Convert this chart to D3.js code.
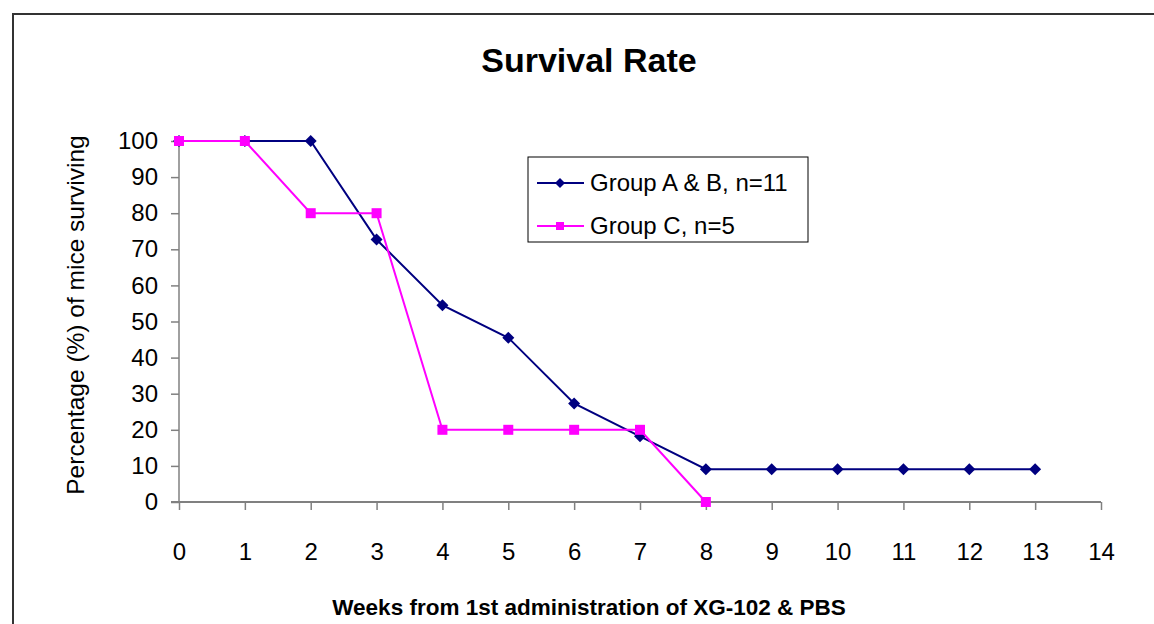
<!DOCTYPE html>
<html>
<head>
<meta charset="utf-8">
<script src="https://cdn.jsdelivr.net/npm/d3@7"></script>
<style>
  body { margin: 0; background: #fff; }
  svg text { font-family: "Liberation Sans", Arial, sans-serif; }
</style>
</head>
<body>
<div id="chart"></div>
<script>
// 資料
const weeks = [0, 1, 2, 3, 4, 5, 6, 7, 8, 9, 10, 11, 12, 13];
const groupAB = [100, 100, 100, 72.7, 54.5, 45.5, 27.3, 18.2, 9.1, 9.1, 9.1, 9.1, 9.1, 9.1];
const groupC = [100, 100, 80, 80, 20, 20, 20, 20, 0];
const xTicks = d3.range(0, 15);
const yTicks = d3.range(0, 101, 10);
const seriesNames = ["Group A & B, n=11", "Group C, n=5"];

const W = 1154, H = 624;
const margin = { top: 141, right: 53, bottom: 122, left: 179 };
const width = W - margin.left - margin.right;
const height = H - margin.top - margin.bottom;

const svg = d3.select("#chart").append("svg")
    .attr("width", W).attr("height", H);

// 外框
svg.append("rect")
    .attr("x", 13).attr("y", 14)
    .attr("width", W + 20).attr("height", H + 20)
    .attr("fill", "none").attr("stroke", "#333").attr("stroke-width", 2);

const g = svg.append("g").attr("transform", `translate(${margin.left},${margin.top})`);

const x = d3.scaleLinear().domain([0, 14]).range([0, width]);
const y = d3.scaleLinear().domain([0, 100]).range([height, 0]);

// X 軸
const xAxis = g.append("g")
    .attr("transform", `translate(0,${height})`)
    .call(d3.axisBottom(x).tickValues(xTicks).tickSize(8).tickPadding(33).tickFormat(d3.format("d")));
xAxis.select(".domain").attr("stroke", "#808080").attr("stroke-width", 2);
xAxis.selectAll(".tick line").attr("stroke", "#808080").attr("stroke-width", 1.5);
xAxis.selectAll(".tick text").attr("font-size", 24).attr("fill", "#000")
    .style("font-family", "'Liberation Sans', Arial, sans-serif");

// Y 軸
const yAxis = g.append("g")
    .call(d3.axisLeft(y).tickValues(yTicks).tickSize(8).tickPadding(13).tickFormat(d3.format("d")));
yAxis.select(".domain").attr("stroke", "#808080").attr("stroke-width", 1.5);
yAxis.selectAll(".tick line").attr("stroke", "#808080").attr("stroke-width", 1.5);
yAxis.selectAll(".tick text").attr("font-size", 24).attr("fill", "#000")
    .style("font-family", "'Liberation Sans', Arial, sans-serif");
// 把軸線延伸到刻度左側
yAxis.select(".domain").attr("d", `M0,${height}V0`);
xAxis.select(".domain").attr("d", `M-8,0H${width}`);

const line = d3.line().x((d, i) => x(weeks[i])).y(d => y(d));

// Group A & B
g.append("path").datum(groupAB)
    .attr("fill", "none").attr("stroke", "#000080").attr("stroke-width", 2)
    .attr("d", line);

const diamond = "M0,-6L6,0L0,6L-6,0Z";

g.selectAll(".pt-ab").data(groupAB).enter().append("path")
    .attr("class", "pt-ab")
    .attr("transform", (d, i) => `translate(${x(weeks[i])},${y(d)})`)
    .attr("d", diamond).attr("fill", "#000080");

// Group C
g.append("path").datum(groupC)
    .attr("fill", "none").attr("stroke", "#FF00FF").attr("stroke-width", 2)
    .attr("d", line);

g.selectAll(".pt-c").data(groupC).enter().append("rect")
    .attr("class", "pt-c")
    .attr("x", (d, i) => x(weeks[i]) - 5).attr("y", d => y(d) - 5)
    .attr("width", 10).attr("height", 10).attr("fill", "#FF00FF");

// 標題
svg.append("text").attr("x", 589).attr("y", 72)
    .attr("text-anchor", "middle").attr("font-size", 34).attr("font-weight", "bold")
    .text("Survival Rate");

svg.append("text").attr("x", 589).attr("y", 615)
    .attr("text-anchor", "middle").attr("font-size", 22.5).attr("font-weight", "bold")
    .text("Weeks from 1st administration of XG-102 & PBS");

svg.append("text")
    .attr("transform", "translate(84,315) rotate(-90)")
    .attr("text-anchor", "middle").attr("font-size", 24.5)
    .text("Percentage (%) of mice surviving");

// 圖例
const legend = svg.append("g").attr("transform", "translate(528,157)");
legend.append("rect").attr("width", 280).attr("height", 85)
    .attr("fill", "#fff").attr("stroke", "#000").attr("stroke-width", 1);

const colors = ["#000080", "#FF00FF"];
seriesNames.forEach((name, i) => {
    const ly = 26 + i * 43;
    legend.append("line").attr("x1", 9).attr("x2", 56).attr("y1", ly).attr("y2", ly)
        .attr("stroke", colors[i]).attr("stroke-width", 2);
    if (i === 0) {
        legend.append("path").attr("transform", `translate(32,${ly})`)
            .attr("d", "M0,-5L5,0L0,5L-5,0Z").attr("fill", colors[i]);
    } else {
        legend.append("rect").attr("x", 28).attr("y", ly - 4).attr("width", 8).attr("height", 8)
            .attr("fill", colors[i]);
    }
    legend.append("text").attr("x", 62).attr("y", ly + 8)
        .attr("font-size", 24).text(name);
});
</script>
</body>
</html>
